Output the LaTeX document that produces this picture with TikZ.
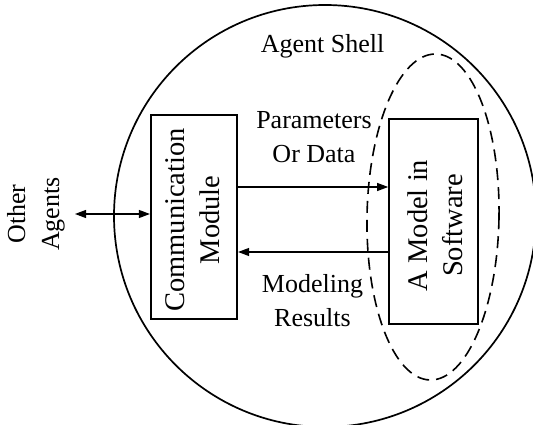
\documentclass[tikz,border=0pt]{standalone}
\usepackage{fontspec}
\setmainfont{Liberation Serif}
\usetikzlibrary{arrows.meta}
\begin{document}
\begin{tikzpicture}[x=1pt,y=1pt,
  lbl/.style={font=\fontsize{26}{34}\selectfont, align=center, inner sep=0pt},
  boxlbl/.style={font=\fontsize{28.5}{35}\selectfont, align=center, inner sep=0pt, rotate=90},
  box/.style={draw, line width=1.7pt, inner sep=0pt},
  arr/.style={line width=1.1pt, -{Triangle[length=11pt,width=8pt]}},
  dbl/.style={line width=1.1pt, {Triangle[length=11pt,width=8pt]}-{Triangle[length=11pt,width=8pt]}},
]
\useasboundingbox (0,0) rectangle (533,425);
\clip (0,0) rectangle (533,425);
\fill[white] (0,0) rectangle (533,425);

% outer shell
\draw[line width=1.7pt] (325,209) circle[radius=211];
\node[lbl, anchor=base] (shell) at (322.5,372) {Agent Shell};

% dashed boundary around the software model
\draw[line width=1.6pt, dash pattern=on 12pt off 7pt, rotate around={-1:(433,208)}]
  (433,208) ellipse[x radius=66, y radius=163];

% modules
\node[box, minimum width=86.5pt, minimum height=204pt] (cm) at (194,208) {};
\node[boxlbl] (cmtext) at ([shift={(-1,-3)}]cm.center) {Communication\\Module};
\node[box, minimum width=89pt, minimum height=205pt] (ms) at (433.5,203.5) {};
\node[boxlbl] (mstext) at ([shift={(2,-4)}]ms.center) {A Model in\\Software};

% other agents
\node[lbl, rotate=90] (other) at (36,211) {Other\\Agents};
\coordinate (otherend) at (75,211);
\draw[dbl] (otherend) -- (cm.west |- otherend);

% data flow between the modules
\draw[arr] (cm.east |- 0,238) -- (ms.west |- 0,238);
\draw[arr] (ms.west |- 0,173) -- (cm.east |- 0,173);
\node[lbl] (params) at (314,288) {Parameters\\Or Data};
\node[lbl] (results) at (312.5,124) {Modeling\\Results};
\end{tikzpicture}
\end{document}
